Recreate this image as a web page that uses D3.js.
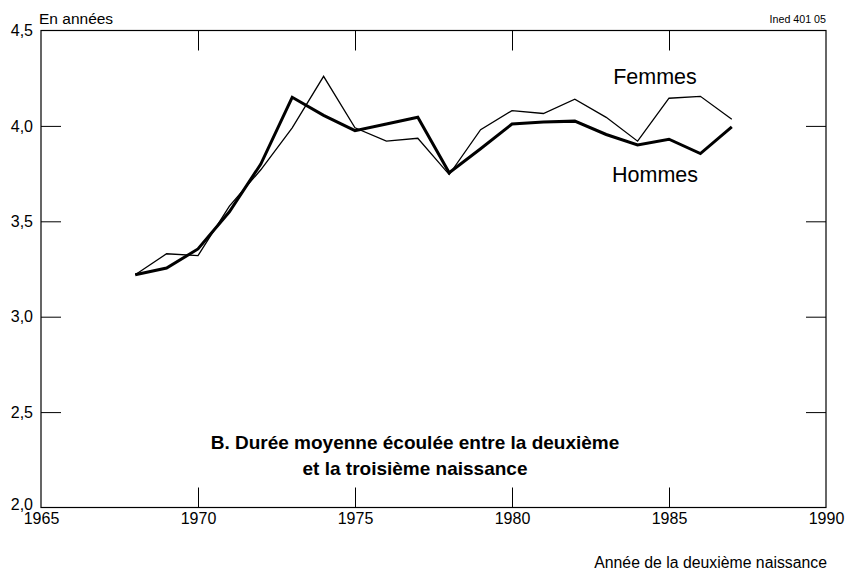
<!DOCTYPE html>
<html lang="fr">
<head>
<meta charset="UTF-8">
<title>Durée moyenne entre la deuxième et la troisième naissance</title>
<script src="https://d3js.org/d3.v7.min.js"></script>
<style>
    body { margin: 0; background: #fff; }
    svg { display: block; font-family: "Liberation Sans", Arial, sans-serif; }
    .axis text { font-size: 16px; fill: #000; }
    .axis path { display: none; }
    .axis line { stroke: #000; stroke-width: 1; }
</style>
</head>
<body>
<svg width="847" height="574"></svg>
<script>
    // années de la deuxième naissance
    const years = [1968, 1969, 1970, 1971, 1972, 1973, 1974, 1975, 1976, 1977,
                   1978, 1979, 1980, 1981, 1982, 1983, 1984, 1985, 1986, 1987];
    const femmes = [3.22, 3.33, 3.32, 3.58, 3.77, 3.99, 4.26, 3.99, 3.92, 3.935,
                    3.745, 3.98, 4.08, 4.065, 4.14, 4.045, 3.92, 4.145, 4.155, 4.035];
    const hommes = [3.22, 3.255, 3.355, 3.55, 3.80, 4.15, 4.055, 3.975, 4.01, 4.045,
                    3.755, 3.88, 4.01, 4.02, 4.025, 3.955, 3.90, 3.93, 3.855, 3.995];
    const xTicks = [1965, 1970, 1975, 1980, 1985, 1990];
    const yTicks = [2.0, 2.5, 3.0, 3.5, 4.0, 4.5];

    const svg = d3.select("svg");
    const mLeft = 41, mRight = 826, mTop = 30.5, mBottom = 507.5;
    const tickLen = 20;

    const x = d3.scaleLinear().domain([1965, 1990]).range([mLeft, mRight]);
    const y = d3.scaleLinear().domain([2.0, 4.5]).range([mBottom, mTop]);
    const fmt = d => d3.format(".1f")(d).replace(".", ",");

    // cadre
    svg.append("rect")
        .attr("x", mLeft).attr("y", mTop)
        .attr("width", mRight - mLeft).attr("height", mBottom - mTop)
        .attr("fill", "none").attr("stroke", "#000").attr("stroke-width", 1.2);

    // graduations intérieures
    const inner = xTicks.slice(1, -1);
    const innerY = yTicks.slice(1, -1);

    svg.append("g").attr("class", "axis")
        .attr("transform", `translate(0,${mBottom})`)
        .call(d3.axisBottom(x).tickValues(inner).tickSize(-tickLen).tickFormat(""));
    svg.append("g").attr("class", "axis")
        .attr("transform", `translate(0,${mTop})`)
        .call(d3.axisTop(x).tickValues(inner).tickSize(-tickLen).tickFormat(""));
    svg.append("g").attr("class", "axis")
        .attr("transform", `translate(${mLeft},0)`)
        .call(d3.axisLeft(y).tickValues(innerY).tickSize(-tickLen).tickFormat(""));
    svg.append("g").attr("class", "axis")
        .attr("transform", `translate(${mRight},0)`)
        .call(d3.axisRight(y).tickValues(innerY).tickSize(-tickLen).tickFormat(""));

    // étiquettes
    svg.append("g").attr("class", "axis")
        .attr("transform", `translate(0,${mBottom})`)
        .call(d3.axisBottom(x).tickValues(xTicks).tickSize(0).tickPadding(5).tickFormat(d3.format("d")));
    const yLab = svg.append("g").attr("class", "axis")
        .attr("transform", `translate(${mLeft},0)`)
        .call(d3.axisLeft(y).tickValues(yTicks).tickSize(0).tickPadding(8).tickFormat(fmt));
    // léger décalage du 2,0 pour ne pas toucher 1965
    yLab.selectAll(".tick").filter(d => d === 2.0).select("text").attr("dy", "0.1em");

    // courbes
    const line = d3.line().x(d => x(d[0])).y(d => y(d[1]));
    svg.append("path")
        .datum(years.map((yr, i) => [yr, femmes[i]]))
        .attr("d", line).attr("fill", "none")
        .attr("stroke", "#000").attr("stroke-width", 1.3).attr("stroke-linejoin", "miter");
    svg.append("path")
        .datum(years.map((yr, i) => [yr, hommes[i]]))
        .attr("d", line).attr("fill", "none")
        .attr("stroke", "#000").attr("stroke-width", 3).attr("stroke-linejoin", "miter");

    // textes
    svg.append("text").attr("x", 655).attr("y", 84)
        .attr("text-anchor", "middle").attr("font-size", 21.5).text("Femmes");
    svg.append("text").attr("x", 655).attr("y", 182)
        .attr("text-anchor", "middle").attr("font-size", 21.5).text("Hommes");

    svg.append("text").attr("x", 39).attr("y", 24)
        .attr("font-size", 15.5).text("En années");
    svg.append("text").attr("x", 826).attr("y", 23)
        .attr("text-anchor", "end").attr("font-size", 10.7).text("Ined 401 05");
    svg.append("text").attr("x", 827).attr("y", 568)
        .attr("text-anchor", "end").attr("font-size", 15.8).text("Année de la deuxième naissance");

    const title = svg.append("text")
        .attr("text-anchor", "middle").attr("font-size", 19).attr("font-weight", "bold");
    title.append("tspan").attr("x", 415).attr("y", 449).text("B. Durée moyenne écoulée entre la deuxième");
    title.append("tspan").attr("x", 415).attr("y", 475).text("et la troisième naissance");
</script>
</body>
</html>
